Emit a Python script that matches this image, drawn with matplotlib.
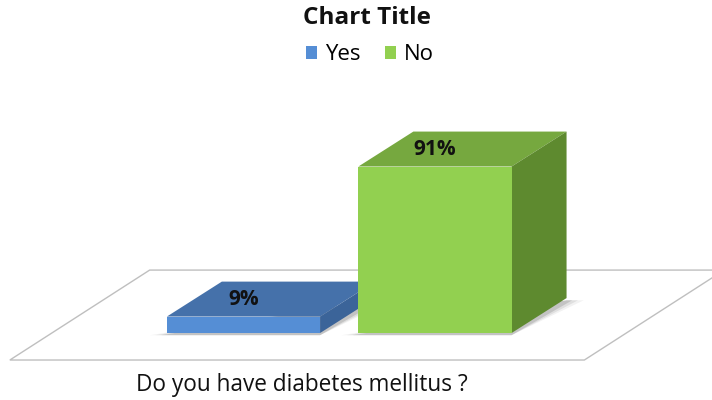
import numpy as np
import matplotlib.pyplot as plt
from matplotlib.patches import Polygon

plt.rcParams['font.family'] = ['Open Sans', 'DejaVu Sans']

# data to plot
categories = ['Yes', 'No']
percents = [9, 91]
question = 'Do you have diabetes mellitus ?'

front_colors = ['#558ED5', '#92D050']
top_colors = ['#4571AA', '#76A83F']
side_colors = ['#3B6499', '#5E8A2F']

# layout (axes fills the whole canvas, data units = categories x percent)
bar_width = 0.8
depth_x = 0.287   # oblique depth of the 3d boxes, x units
depth_y = 19.1    # oblique depth of the 3d boxes, percent units

fig = plt.figure(figsize=(7.12, 4.0), dpi=100)
ax = fig.add_axes([0, 0, 1, 1])
ax.set_xlim(-1.2715, 2.4465)
ax.set_ylim(-36.6, 182)
ax.axis('off')

# floor of the 3d plot
floor = Polygon([(-1.22, -14.75), (1.78, -14.75), (2.51, 34.4), (-0.49, 34.4)],
                closed=True, facecolor='white', edgecolor='#BFBFBF', lw=1.0, zorder=1)
ax.add_patch(floor)

x_pos = np.arange(len(categories))

# soft shadow under each box
for x in x_pos:
    for k, a in enumerate([0.05, 0.08, 0.12]):
        grow = 0.03 * (3 - k)
        sh = Polygon([(x - bar_width / 2 - grow, -1.2), (x + bar_width / 2, -1.2),
                      (x + bar_width / 2 + depth_x + grow, depth_y - 1.2),
                      (x + bar_width / 2 + depth_x, depth_y - 1.2)],
                     closed=True, facecolor='black', edgecolor='none', alpha=a, zorder=2)
        ax.add_patch(sh)

bars = []
for x, val, cat, fc, tc, sc in zip(x_pos, percents, categories,
                                   front_colors, top_colors, side_colors):
    left = x - bar_width / 2
    right = x + bar_width / 2
    top = Polygon([(left, val), (right, val), (right + depth_x, val + depth_y),
                   (left + depth_x, val + depth_y)],
                  closed=True, facecolor=tc, edgecolor='none', zorder=3)
    side = Polygon([(right, 0), (right + depth_x, depth_y), (right + depth_x, val + depth_y),
                    (right, val)],
                   closed=True, facecolor=sc, edgecolor='none', zorder=3)
    ax.add_patch(top)
    ax.add_patch(side)
    b = ax.bar(x, val, bar_width, color=fc, zorder=4)
    bars.append(b)
    ax.text(x, val + depth_y / 2, f'{val}%', ha='center', va='center',
            fontsize=15, fontweight='bold', color='#111111', zorder=5)

fig.text(367 / 712, 1 - 18 / 400, 'Chart Title', ha='center', va='center',
         fontsize=17.5, fontweight='bold', color='#111111')
ax.legend(bars, categories, loc='center', bbox_to_anchor=(370 / 712, 1 - 55 / 400),
          ncol=2, frameon=False, fontsize=16, handlelength=0.5, handleheight=0.5,
          handletextpad=0.35, columnspacing=1.1)
fig.text(302 / 712, 1 - 385 / 400, question, ha='center', va='center',
         fontsize=16.3, color='#111111')

plt.savefig('out.png', dpi=100)
